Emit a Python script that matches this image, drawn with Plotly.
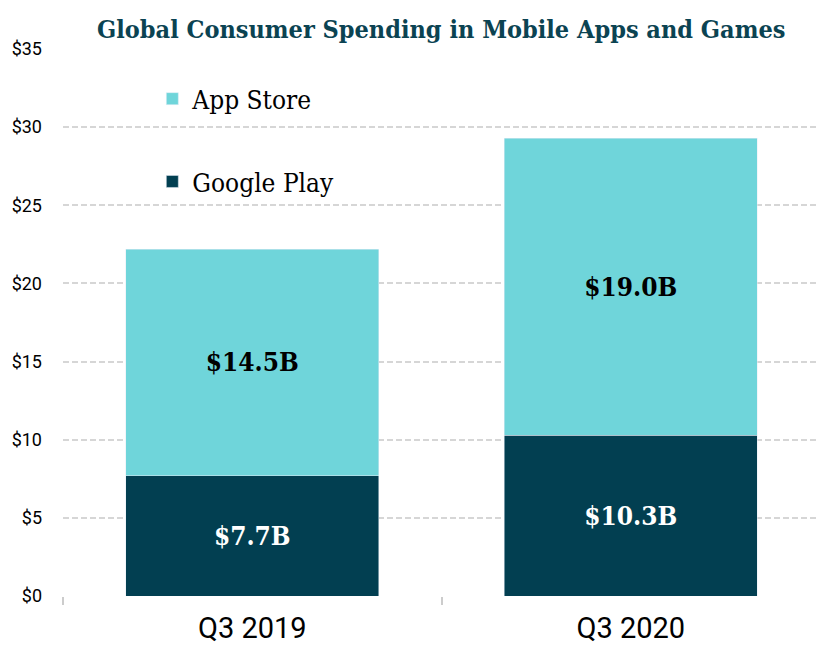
import plotly.graph_objects as go

categories = ["Q3 2019", "Q3 2020"]
google_play = [7.7, 10.3]
app_store = [14.5, 19.0]
google_labels = ["$7.7B", "$10.3B"]
app_labels = ["$14.5B", "$19.0B"]
y_ticks = [0, 5, 10, 15, 20, 25, 30, 35]
y_tick_labels = ["$0", "$5", "$10", "$15", "$20", "$25", "$30", "$35"]

DARK = "#023f51"
LIGHT = "#6fd5da"
SLAB = "DejaVu Serif Condensed, DejaVu Serif, serif"

fig = go.Figure()
fig.add_trace(go.Bar(
    x=categories, y=google_play, name="Google Play", marker_color=DARK,
    text=google_labels, textposition="inside", insidetextanchor="middle",
    textfont=dict(family=SLAB, size=26, color="white", weight="bold"),
    legendgroup="g", legendrank=2, width=0.668,
))
fig.add_trace(go.Bar(
    x=categories, y=app_store, name="App Store", marker_color=LIGHT,
    text=app_labels, textposition="inside", insidetextanchor="middle",
    textfont=dict(family=SLAB, size=26, color="black", weight="bold"),
    legendgroup="a", legendrank=1, width=0.668,
))

fig.update_layout(
    barmode="stack",
    width=819, height=639,
    margin=dict(l=55, r=7, t=41, b=51, autoexpand=False),
    plot_bgcolor="white", paper_bgcolor="white",
    title=dict(text="<b>Global Consumer Spending in Mobile Apps and Games</b>",
               x=0.529, xanchor="center", y=0.966, yanchor="middle",
               font=dict(family=SLAB, size=25, color="#0b4352")),
    legend=dict(x=0.118, y=0.952, xanchor="left", yanchor="top",
                traceorder="grouped", tracegroupgap=46,
                font=dict(family=SLAB, size=26, color="black"),
                bgcolor="rgba(0,0,0,0)", itemwidth=30),
    uniformtext=dict(mode=False),
)
fig.update_yaxes(range=[0, 35], tickvals=y_ticks, ticktext=y_tick_labels,
                 showgrid=True, gridcolor="#d6d6d6", griddash="6px,3px", gridwidth=1.5,
                 zeroline=False, showline=False, automargin=False,
                 tickfont=dict(family="Roboto, sans-serif", size=18, color="black"),
                 ticklabelstandoff=20)
fig.update_xaxes(range=[-0.5, 1.5], tickson="boundaries", ticks="outside", ticklen=8,
                 tickwidth=1.5, tickcolor="#cccccc", showline=False, showgrid=False,
                 automargin=False,
                 tickfont=dict(family="Roboto, sans-serif", size=29, color="black"),
                 ticklabelstandoff=12)

fig.write_html("out.html")
